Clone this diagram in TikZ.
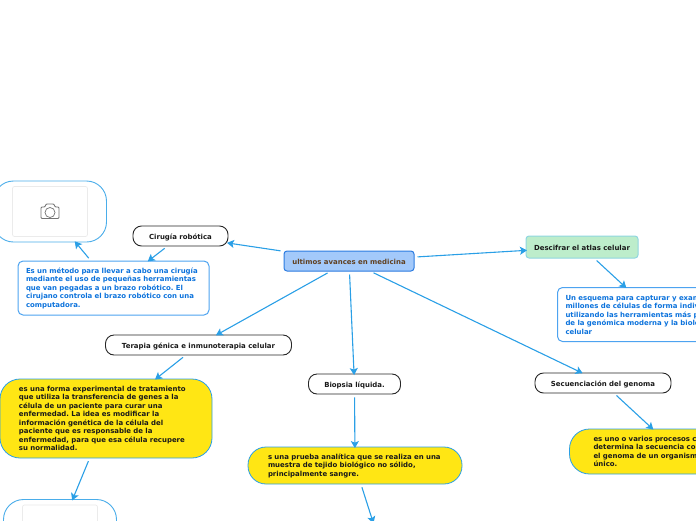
\documentclass[tikz,border=0pt]{standalone}
\usepackage{fontspec}
\setmainfont{DejaVu Sans}
\usetikzlibrary{arrows.meta}
\definecolor{cline}{HTML}{2A9FE6}
\definecolor{cyel}{HTML}{FFE614}
\definecolor{cblue}{HTML}{0B72DC}
\definecolor{cbord}{HTML}{4DA3F0}
\definecolor{crootf}{HTML}{A3C9FA}
\definecolor{crootb}{HTML}{2B7BE0}
\definecolor{cgreenf}{HTML}{BDEDCB}
\definecolor{cgreenb}{HTML}{8FD6E0}
\tikzset{
  x=1pt,y=-1pt,
  txt/.style={font=\fontsize{6.95}{8.5}\selectfont\bfseries\frenchspacing,align=left},
  onetxt/.style={font=\fontsize{6.95}{8.5}\selectfont\bfseries\frenchspacing,text height=7.8pt,text depth=0pt,inner sep=0pt},
  pillbox/.style={onetxt,draw=black!85,line width=0.9pt,rounded corners=8.5pt,fill=white,text=black!90},
  bluebox/.style={txt,draw=cbord,line width=1pt,rounded corners=5pt,fill=white,text=cblue,inner ysep=0pt},
  yelbox/.style={txt,draw=cline,line width=0.8pt,fill=cyel,text=black!90,inner ysep=0pt},
  imgbox/.style={draw=cline!85,line width=0.9pt,fill=white,inner sep=0pt,rounded corners=20pt},
  imginner/.style={draw=black!8,line width=0.7pt,rounded corners=2pt,inner sep=0pt},
  conn/.style={draw=cline,line width=1.1pt,-{Stealth[length=7pt,width=8pt,inset=1.5pt]},shorten <=#1,shorten >=-1.5pt},
  conn/.default=3pt
}
\begin{document}
\begin{tikzpicture}
\useasboundingbox (0,0) rectangle (696,520);
\clip (0,0) rectangle (696,520);
\node[onetxt,draw=crootb,fill=crootf,line width=1pt,rounded corners=3pt,minimum width=130pt,minimum height=20pt,text=brown!50!black] (root) at (349,261) {ultimos avances en medicina};
\node[pillbox,minimum width=95pt,minimum height=20pt] (cir) at (180.5,236) {Cirugía robótica};
\node[bluebox,minimum height=54pt,text width=175pt,inner xsep=8pt] (cirt) at (113.5,288) {Es un método para llevar a cabo una cirugía\\mediante el uso de pequeñas herramientas\\que van pegadas a un brazo robótico. El\\cirujano controla el brazo robótico con una\\computadora.};
\node[imgbox,minimum width=113pt,minimum height=61pt] (img1) at (50,211.5) {};
\node[imginner,minimum width=75pt,minimum height=50pt] (in1) at (50,211.5) {};
\draw[black!55,line width=0.9pt,rounded corners=1pt] (41,218.5) -- (41,207) -- (45,207) -- (46,204) -- (54,204) -- (55,207) -- (59,207) -- (59,218.5) -- cycle;
\draw[black!55,line width=0.7pt] (50,212.5) circle (5pt);
\node[pillbox,minimum width=186pt,minimum height=20pt] (ter) at (198.5,345) {Terapia génica e inmunoterapia celular};
\node[yelbox,rounded corners=20pt,minimum height=79pt,text width=174pt,inner xsep=19pt] (tert) at (106,418.5) {es una forma experimental de tratamiento\\que utiliza la transferencia de genes a la\\célula de un paciente para curar una\\enfermedad. La idea es modificar la\\información genética de la célula del\\paciente que es responsable de la\\enfermedad, para que esa célula recupere\\su normalidad.};
\node[imgbox,minimum width=113pt,minimum height=61pt] (img2) at (60,530) {};
\node[imginner,minimum width=75pt,minimum height=50pt] (in2) at (60,530) {};
\node[pillbox,minimum width=92pt,minimum height=20pt] (bio) at (354.5,384) {Biopsia líquida.};
\node[yelbox,rounded corners=18pt,minimum height=37pt,text width=174pt,inner xsep=20pt] (biot) at (355,465.5) {s una prueba analítica que se realiza en una\\muestra de tejido biológico no sólido,\\principalmente sangre.};
\coordinate (bioend) at (373,522);
\node[pillbox,minimum width=136pt,minimum height=20pt] (sec) at (603,383) {Secuenciación del genoma};
\node[yelbox,rounded corners=20pt,minimum height=45pt,text width=167pt,inner xsep=24pt] (sect) at (677,451.5) {es uno o varios procesos con que se\\determina la secuencia completa en\\el genoma de un organismo\\único.};
\node[onetxt,draw=cgreenb,fill=cgreenf,line width=1pt,rounded corners=3pt,minimum width=112pt,minimum height=22pt,text=black!90] (des) at (582,247) {Descifrar el atlas celular};
\node[bluebox,minimum height=54pt,text width=179pt,inner xsep=8pt,anchor=west] (dest) at (557,314.5) {Un esquema para capturar y examinar\\millones de células de forma individual\\utilizando las herramientas más potentes\\de la genómica moderna y la biología\\celular};
\draw[conn] (root) -- (cir);
\draw[conn] (root) -- (ter);
\draw[conn] (root) -- (bio);
\draw[conn] (root) -- (sec);
\draw[conn] (root) -- (des);
\draw[conn] (cir) -- (cirt);
\draw[conn] (cirt) -- (img1);
\draw[conn] (ter) -- (tert);
\draw[conn] (tert) -- (img2);
\draw[conn] (bio) -- (biot);
\draw[conn] (biot) -- (bioend);
\draw[conn] (sec) -- (sect);
\draw[conn] (des) -- (dest);
\end{tikzpicture}
\end{document}
